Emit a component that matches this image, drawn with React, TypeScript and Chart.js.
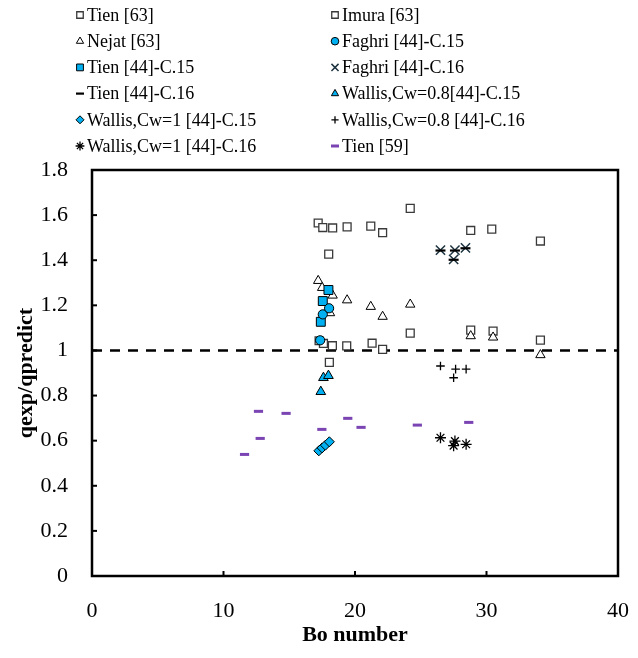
import React, { useEffect, useRef } from 'react';
import { Chart, registerables } from 'chart.js';
import { drawPoint } from 'chart.js/helpers';

Chart.register(...registerables);

// ---------- data ----------
const X_TICKS = [0, 10, 20, 30, 40];
const X_TICK_LABELS = ['0', '10', '20', '30', '40'];
const Y_TICKS = [0, 0.2, 0.4, 0.6, 0.8, 1.0, 1.2, 1.4, 1.6, 1.8];
const Y_TICK_LABELS = ['0', '0.2', '0.4', '0.6', '0.8', '1', '1.2', '1.4', '1.6', '1.8'];

const REF_X = [0, 40];
const REF_Y = [1, 1];

const TIEN63_X = [17.27, 17.6, 18.28, 19.37, 21.3, 22.1, 24.2, 28.8, 30.5, 34.1, 18.05];
const TIEN63_Y = [1.043, 1.031, 1.021, 1.02, 1.032, 1.005, 1.077, 1.09, 1.086, 1.046, 0.947];

const IMURA63_X = [17.2, 17.55, 18.3, 19.4, 21.2, 22.1, 24.2, 28.8, 30.4, 34.1, 18.0];
const IMURA63_Y = [1.565, 1.545, 1.543, 1.548, 1.551, 1.522, 1.63, 1.532, 1.538, 1.485, 1.427];

const NEJAT63_X = [17.2, 17.5, 18.3, 19.4, 21.2, 18.1, 22.1, 24.2, 28.8, 30.5, 34.1];
const NEJAT63_Y = [1.309, 1.278, 1.244, 1.223, 1.194, 1.166, 1.15, 1.204, 1.064, 1.058, 0.98];

const FAGHRI_C15_X = [17.35, 17.55, 18.03];
const FAGHRI_C15_Y = [1.045, 1.16, 1.187];

const TIEN44_C15_X = [17.4, 17.55, 17.98];
const TIEN44_C15_Y = [1.127, 1.219, 1.268];

const FAGHRI_C16_X = [26.5, 27.6, 28.4, 27.5];
const FAGHRI_C16_Y = [1.445, 1.445, 1.455, 1.404];

const TIEN44_C16_X = [26.5, 27.6, 28.4, 27.5];
const TIEN44_C16_Y = [1.443, 1.443, 1.453, 1.402];

const WALLIS08_C15_X = [17.6, 17.98, 17.4];
const WALLIS08_C15_Y = [0.879, 0.888, 0.817];

const WALLIS1_C15_X = [17.25, 17.5, 17.75, 18.05];
const WALLIS1_C15_Y = [0.555, 0.568, 0.58, 0.595];

const WALLIS08_C16_X = [26.5, 27.65, 28.45, 27.5];
const WALLIS08_C16_Y = [0.931, 0.917, 0.917, 0.879];

const WALLIS1_C16_X = [26.5, 27.6, 27.5, 28.45];
const WALLIS1_C16_Y = [0.613, 0.598, 0.578, 0.584];

const TIEN59_X = [12.66, 14.76, 12.79, 11.6, 19.45, 20.46, 17.48, 24.74, 28.65];
const TIEN59_Y = [0.73, 0.721, 0.61, 0.539, 0.699, 0.659, 0.65, 0.669, 0.681];

// ---------- helpers ----------
const pts = (xs: number[], ys: number[]) => xs.map((x, i) => ({ x, y: ys[i] }));

const BLUE = '#00B0F0';
const FONT = "'Liberation Serif', 'Times New Roman', serif";

function series(label: string, xs: number[], ys: number[], style: any, order: number) {
  return {
    type: 'scatter',
    label,
    data: pts(xs, ys),
    showLine: false,
    order,
    pointStyle: style.pointStyle,
    pointRadius: style.radius,
    pointHoverRadius: style.radius,
    pointBackgroundColor: style.fill,
    pointBorderColor: style.stroke,
    pointBorderWidth: style.width,
    legendRadius: style.legendRadius,
  };
}

const framePlugin = {
  id: 'frameAndLegend',
  afterDraw(chart: any) {
    const { ctx, chartArea } = chart;
    const { left, right, top, bottom } = chartArea;
    ctx.save();
    // inside tick marks
    ctx.strokeStyle = '#000';
    ctx.lineWidth = 2;
    const ys = chart.scales.y;
    ys.ticks.forEach((t: any) => {
      const py = ys.getPixelForValue(t.value);
      ctx.beginPath();
      ctx.moveTo(left, py);
      ctx.lineTo(left + 5, py);
      ctx.stroke();
    });
    const xs = chart.scales.x;
    xs.ticks.forEach((t: any) => {
      const px = xs.getPixelForValue(t.value);
      ctx.beginPath();
      ctx.moveTo(px, bottom);
      ctx.lineTo(px, bottom - 5);
      ctx.stroke();
    });
    // frame
    ctx.lineWidth = 2.5;
    ctx.strokeRect(left, top, right - left, bottom - top);

    // legend: two columns
    ctx.font = `18px ${FONT}`;
    ctx.textBaseline = 'middle';
    ctx.textAlign = 'left';
    const items = chart.data.datasets.filter((d: any) => !d.hideLegend);
    items.forEach((d: any, i: number) => {
      const col = i % 2;
      const row = Math.floor(i / 2);
      const mx = col === 0 ? 80 : 335;
      const tx = col === 0 ? 87 : 342;
      const my = 15 + row * 26.2;
      ctx.save();
      ctx.fillStyle = d.pointBackgroundColor;
      ctx.strokeStyle = d.pointBorderColor;
      ctx.lineWidth = d.pointBorderWidth;
      drawPoint(ctx, { pointStyle: d.pointStyle, radius: d.legendRadius, rotation: 0, borderWidth: d.pointBorderWidth }, mx, my);
      ctx.restore();
      ctx.fillStyle = '#000';
      ctx.fillText(d.label, tx, my + 1);
    });
    ctx.restore();
  },
};

export default function App() {
  const ref = useRef<HTMLCanvasElement | null>(null);

  useEffect(() => {
    if (!ref.current) return;
    const datasets: any[] = [
      series('Tien [63]', TIEN63_X, TIEN63_Y, { pointStyle: 'rect', radius: 5.6, fill: '#fff', stroke: '#3a3a3a', width: 1.3, legendRadius: 4.6 }, 20),
      series('Imura [63]', IMURA63_X, IMURA63_Y, { pointStyle: 'rect', radius: 5.6, fill: '#fff', stroke: '#3a3a3a', width: 1.3, legendRadius: 4.6 }, 19),
      series('Nejat [63]', NEJAT63_X, NEJAT63_Y, { pointStyle: 'triangle', radius: 5.4, fill: '#fff', stroke: '#000', width: 1, legendRadius: 4.2 }, 18),
      series('Faghri [44]-C.15', FAGHRI_C15_X, FAGHRI_C15_Y, { pointStyle: 'circle', radius: 4.6, fill: BLUE, stroke: '#000', width: 1, legendRadius: 3.8 }, 4),
      series('Tien [44]-C.15', TIEN44_C15_X, TIEN44_C15_Y, { pointStyle: 'rect', radius: 6.3, fill: BLUE, stroke: '#000', width: 1, legendRadius: 4.8 }, 5),
      series('Faghri [44]-C.16', FAGHRI_C16_X, FAGHRI_C16_Y, { pointStyle: 'crossRot', radius: 6.5, fill: '#1d3440', stroke: '#1d3440', width: 1.5, legendRadius: 5 }, 7),
      series('Tien [44]-C.16', TIEN44_C16_X, TIEN44_C16_Y, { pointStyle: 'line', radius: 5, fill: '#000', stroke: '#000', width: 2.2, legendRadius: 4 }, 6),
      series('Wallis,Cw=0.8[44]-C.15', WALLIS08_C15_X, WALLIS08_C15_Y, { pointStyle: 'triangle', radius: 5.6, fill: BLUE, stroke: '#000', width: 1, legendRadius: 4.2 }, 8),
      series('Wallis,Cw=1 [44]-C.15', WALLIS1_C15_X, WALLIS1_C15_Y, { pointStyle: 'rectRot', radius: 5, fill: BLUE, stroke: '#000', width: 1, legendRadius: 4 }, 9),
      series('Wallis,Cw=0.8 [44]-C.16', WALLIS08_C16_X, WALLIS08_C16_Y, { pointStyle: 'cross', radius: 4.3, fill: '#000', stroke: '#000', width: 1.3, legendRadius: 3.6 }, 10),
      series('Wallis,Cw=1 [44]-C.16', WALLIS1_C16_X, WALLIS1_C16_Y, { pointStyle: 'star', radius: 5.5, fill: '#000', stroke: '#000', width: 1.3, legendRadius: 4.4 }, 11),
      series('Tien [59]', TIEN59_X, TIEN59_Y, { pointStyle: 'line', radius: 4.6, fill: '#7b44b3', stroke: '#7b44b3', width: 3, legendRadius: 4 }, 12),
      {
        type: 'line',
        label: 'ref',
        hideLegend: true,
        data: pts(REF_X, REF_Y),
        borderColor: '#000',
        borderWidth: 2.6,
        borderDash: [10, 8],
        pointRadius: 0,
        fill: false,
        order: 30,
      },
    ];

    const chart = new Chart(ref.current, {
      type: 'scatter',
      data: { datasets },
      options: {
        responsive: false,
        animation: false,
        devicePixelRatio: 1,
        layout: { padding: { left: 0, top: 170, right: 20, bottom: 0 } },
        plugins: { legend: { display: false }, tooltip: { enabled: false } },
        scales: {
          x: {
            type: 'linear',
            min: 0,
            max: 40,
            afterFit: (s: any) => { s.height = 82; s.paddingLeft = 0; s.paddingRight = 0; },
            afterBuildTicks: (s: any) => { s.ticks = X_TICKS.map((v) => ({ value: v })); },
            ticks: {
              color: '#000',
              font: { family: FONT, size: 22 },
              padding: 14,
              maxRotation: 0,
              callback: (_v: any, i: number) => X_TICK_LABELS[i],
            },
            grid: { display: false },
            border: { display: false },
            title: {
              display: true,
              text: 'Bo number',
              color: '#000',
              font: { family: FONT, size: 22, weight: 'bold' },
              padding: { top: 0, bottom: 9 },
            },
          },
          y: {
            type: 'linear',
            min: 0,
            max: 1.8,
            afterFit: (s: any) => { s.width = 92; s.paddingTop = 0; s.paddingBottom = 0; },
            afterBuildTicks: (s: any) => { s.ticks = Y_TICKS.map((v) => ({ value: v })); },
            ticks: {
              color: '#000',
              font: { family: FONT, size: 22 },
              padding: 16,
              callback: (_v: any, i: number) => Y_TICK_LABELS[i],
            },
            grid: { display: false },
            border: { display: false },
            title: {
              display: true,
              text: 'qexp/qpredict',
              color: '#000',
              font: { family: FONT, size: 22, weight: 'bold' },
              padding: { top: 13, bottom: 0 },
            },
          },
        },
      },
      plugins: [framePlugin],
    } as any);

    return () => chart.destroy();
  }, []);

  return (
    <div style={{ position: 'fixed', left: 0, top: 0, width: 638, height: 658, background: '#fff' }}>
      <canvas ref={ref} width={638} height={658} style={{ display: 'block', width: 638, height: 658 }} />
    </div>
  );
}
